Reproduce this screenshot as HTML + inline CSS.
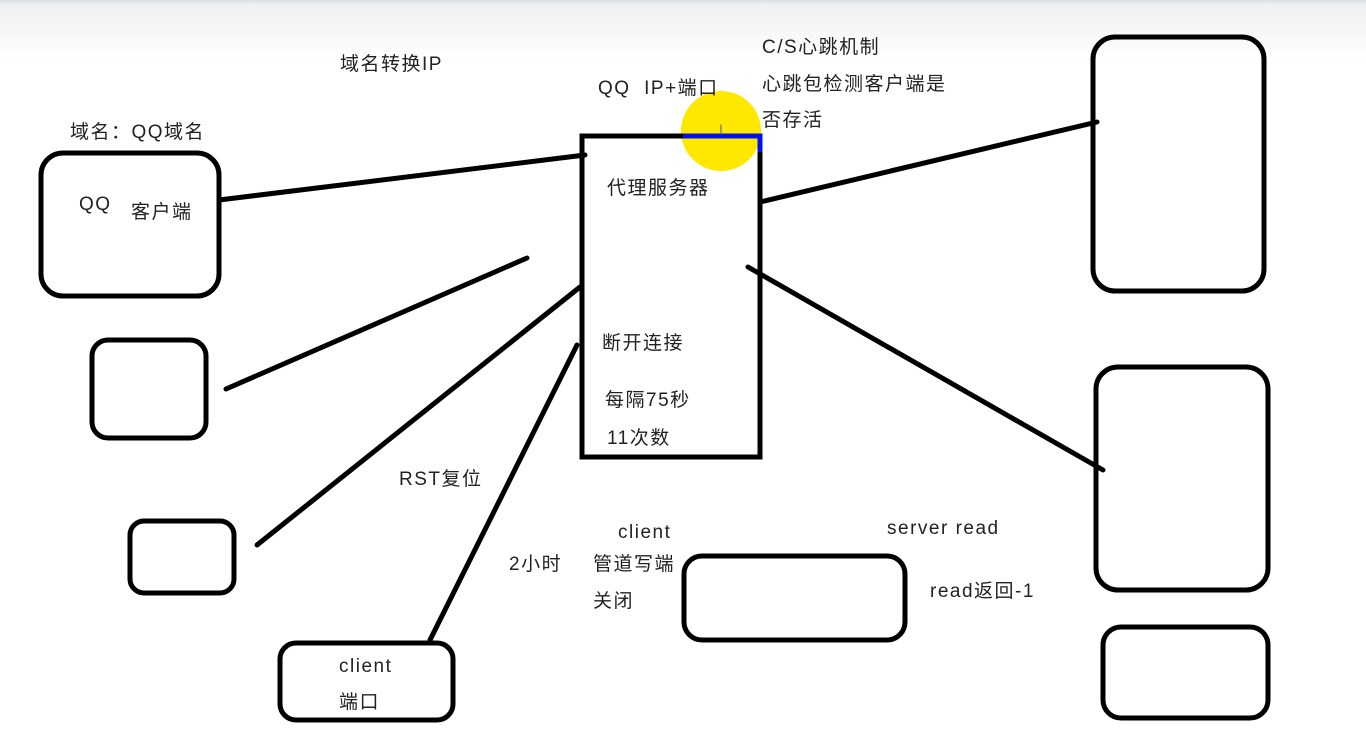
<!DOCTYPE html>
<html><head><meta charset="utf-8"><style>
body{margin:0;width:1366px;height:735px;overflow:hidden;background:#fff}
svg{display:block}
text{font-family:"Liberation Sans","Noto Sans CJK SC",sans-serif;font-size:19px;letter-spacing:1.5px;fill:#222}
</style></head><body>
<svg width="1366" height="735" viewBox="0 0 1366 735">
<defs><linearGradient id="g" x1="0" y1="0" x2="0" y2="1">
<stop offset="0" stop-color="#dde0e4"/><stop offset="0.08" stop-color="#eef0f2"/><stop offset="1" stop-color="#fff"/></linearGradient></defs>
<rect x="0" y="0" width="1366" height="60" fill="url(#g)"/>
<g fill="none" stroke="#000" stroke-width="5" stroke-linecap="round">
<rect x="41" y="153" width="178" height="143" rx="22"/>
<rect x="92" y="340" width="114" height="98" rx="16"/>
<rect x="130" y="521" width="104" height="72" rx="14"/>
<rect x="280" y="643" width="173" height="77" rx="16"/>
<rect x="1093" y="37" width="171" height="254" rx="22"/>
<rect x="1096" y="367" width="172" height="223" rx="22"/>
<rect x="1103" y="627" width="165" height="91" rx="18"/>
<rect x="684" y="556" width="221" height="84" rx="18"/>
<line x1="219" y1="200" x2="585" y2="155"/>
<line x1="226" y1="389" x2="527" y2="258"/>
<line x1="257" y1="545" x2="580" y2="287"/>
<line x1="430" y1="640" x2="577" y2="345"/>
<line x1="760" y1="202" x2="1097" y2="122"/>
<line x1="748" y1="267" x2="1103" y2="470"/>
</g>
<circle cx="721" cy="131" r="40" fill="#ffe800"/>
<rect x="582" y="136" width="178" height="321" fill="none" stroke="#000" stroke-width="5"/>
<polyline points="683,136 760,136 760,152" fill="none" stroke="#0010ee" stroke-width="5"/>
<text x="719" y="134" style="font-size:14px;fill:#777;letter-spacing:0">I</text>
<text x="340" y="70">域名转换IP</text>
<text x="598" y="94">QQ&#160; IP+端口</text>
<text x="762" y="53">C/S心跳机制</text>
<text x="762" y="90">心跳包检测客户端是</text>
<text x="762" y="126">否存活</text>
<text x="70" y="138">域名：QQ域名</text>
<text x="79" y="210">QQ</text>
<text x="131" y="218">客户端</text>
<text x="607" y="194">代理服务器</text>
<text x="602" y="349">断开连接</text>
<text x="605" y="406">每隔75秒</text>
<text x="607" y="444">11次数</text>
<text x="399" y="485">RST复位</text>
<text x="618" y="538">client</text>
<text x="887" y="534">server read</text>
<text x="509" y="570">2小时</text>
<text x="593" y="570">管道写端</text>
<text x="593" y="607">关闭</text>
<text x="930" y="597">read返回-1</text>
<text x="339" y="672">client</text>
<text x="339" y="708">端口</text>
</svg>
</body></html>
